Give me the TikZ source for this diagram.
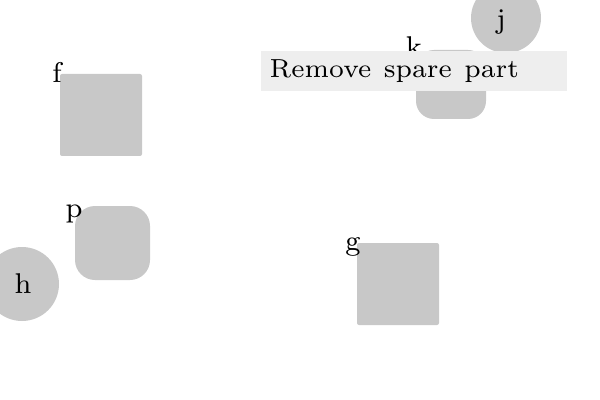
\documentclass[tikz,border=0pt]{standalone}
\definecolor{shapegray}{HTML}{C8C8C8}
\definecolor{boxgray}{HTML}{EEEEEE}
\newdimen\pu \pu=0.28pt
\newcommand{\boxtxt}[1]{\scalebox{1.045}{\fontsize{7}{8.4}\selectfont #1}}
\begin{document}
\begin{tikzpicture}[x=\pu,y=-\pu,
  shp/.style={fill=shapegray, draw=none, inner sep=0pt, outer sep=0pt},
  sq/.style={shp, rectangle, rounded corners=2\pu, minimum width=82\pu, minimum height=82\pu},
  rsq/.style={shp, rectangle, rounded corners=20\pu},
  circ/.style={shp, circle},
  lbl/.style={font=\fontsize{8}{9.6}\selectfont, inner sep=0pt, anchor=base},
  tbox/.style={fill=boxgray, draw=none, inner xsep=9\pu, inner ysep=0pt,
    minimum height=40\pu, text width=288\pu, align=left, anchor=north west}]
\useasboundingbox (0,0) rectangle (600,400);
% shapes
\node[sq] (f) at (101,115) {};
\node[rsq, minimum width=75\pu, minimum height=74\pu] (p) at (112.5,243) {};
\node[circ, minimum size=74\pu] (h) at (22,284) {};
\node[sq] (g) at (398,284) {};
\node[rsq, rounded corners=18\pu, minimum width=70\pu, minimum height=69\pu] (k) at (451,84.5) {};
\node[circ, minimum size=70\pu] (j) at (506,18) {};
% labels
\node[lbl] (fl) at (57,83) {f};
\node[lbl] (pl) at (74,218) {p};
\node[lbl] (gl) at (353,250) {g};
\node[lbl] (kl) at (414,57) {k};
\node[lbl] (hl) at (23,293) {h};
\node[lbl] (jl) at (501,29) {j};
% text box
\node[tbox] (t) at (260,50) {\boxtxt{Remove spare part}};
\end{tikzpicture}
\end{document}
